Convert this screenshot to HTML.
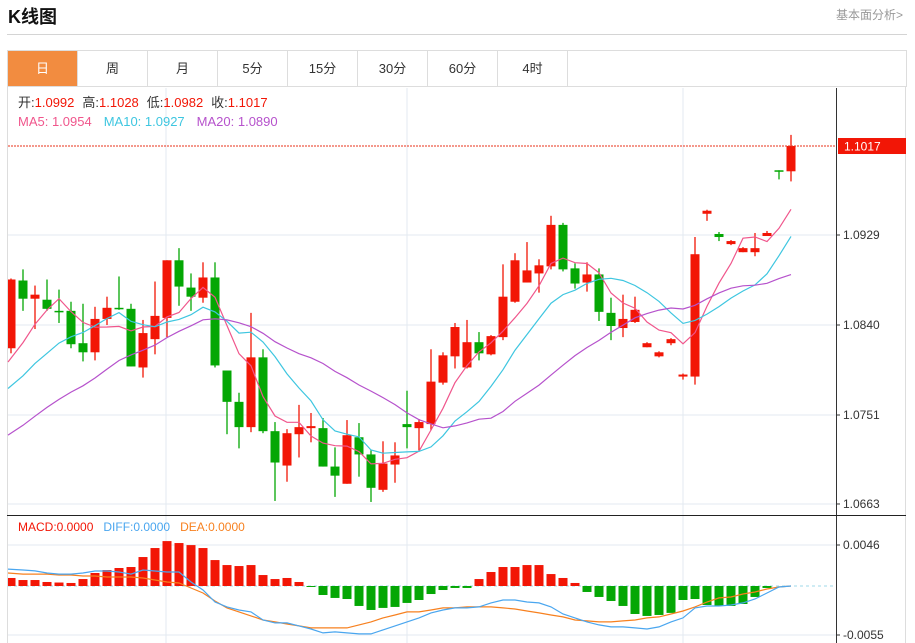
<!DOCTYPE html>
<html><head><meta charset="utf-8">
<style>
body{margin:0;background:#fff;font-family:"Liberation Sans","Noto Sans CJK SC",sans-serif;width:915px;height:643px;overflow:hidden;position:relative}
#title{position:absolute;left:8px;top:3px;font-size:18px;font-weight:bold;color:#111}
#more{position:absolute;right:12px;top:6px;font-size:12px;color:#999}
#hr{position:absolute;left:7px;top:34px;width:900px;height:1px;background:#d4d4d4}
#tabs{position:absolute;left:7px;top:50px;width:898px;height:35px;border:1px solid #ddd;display:flex}
.tab{width:69px;border-right:1px solid #ddd;text-align:center;line-height:35px;font-size:13px;color:#333}
.tab.on{background:#f28c40;color:#fff}
svg{position:absolute;left:0;top:0}
</style></head><body>
<div id="title">K线图</div>
<div id="more">基本面分析&gt;</div>
<div id="hr"></div>
<div id="tabs">
<div class="tab on">日</div>
<div class="tab">周</div>
<div class="tab">月</div>
<div class="tab">5分</div>
<div class="tab">15分</div>
<div class="tab">30分</div>
<div class="tab">60分</div>
<div class="tab">4时</div>
</div>
<svg id="chart" width="915" height="643"></svg>
<script>
const opens=[1.0817,1.0884,1.0866,1.0865,1.0854,1.0854,1.0822,1.0813,1.0846,1.0857,1.0856,1.0798,1.0826,1.0847,1.0904,1.0877,1.0867,1.0887,1.0795,1.0764,1.0739,1.0808,1.0735,1.0701,1.0732,1.0738,1.0738,1.0700,1.0683,1.0729,1.0712,1.0677,1.0702,1.0742,1.0738,1.0742,1.0783,1.0809,1.0798,1.0823,1.0811,1.0828,1.0863,1.0882,1.0891,1.0898,1.0939,1.0896,1.0882,1.0890,1.0852,1.0837,1.0843,1.0818,1.0809,1.0822,1.0789,1.0789,1.0950,1.0930,1.0920,1.0912,1.0912,1.0928,1.0993,1.0992];
const highs=[1.0886,1.0895,1.0879,1.0885,1.0875,1.0863,1.0861,1.0858,1.0868,1.0888,1.0861,1.0845,1.0883,1.0904,1.0916,1.0891,1.0902,1.0902,1.0795,1.0773,1.0852,1.0816,1.0744,1.0737,1.0761,1.0753,1.0748,1.0719,1.0746,1.0743,1.0716,1.0725,1.0724,1.0775,1.0747,1.0816,1.0813,1.0842,1.0845,1.0833,1.0830,1.0900,1.0911,1.0922,1.0905,1.0948,1.0941,1.0901,1.0902,1.0896,1.0867,1.0870,1.0868,1.0823,1.0814,1.0827,1.0792,1.0927,1.0954,1.0932,1.0924,1.0917,1.0931,1.0933,1.0993,1.1028];
const lows=[1.0812,1.0854,1.0836,1.0854,1.0842,1.0817,1.0804,1.0805,1.0840,1.0855,1.0799,1.0788,1.0811,1.0828,1.0859,1.0854,1.0862,1.0798,1.0732,1.0718,1.0734,1.0733,1.0666,1.0685,1.0709,1.0724,1.0700,1.0670,1.0683,1.0690,1.0665,1.0675,1.0684,1.0718,1.0716,1.0736,1.0781,1.0797,1.0797,1.0805,1.0810,1.0825,1.0862,1.0882,1.0872,1.0895,1.0893,1.0876,1.0873,1.0844,1.0825,1.0828,1.0842,1.0818,1.0808,1.0820,1.0786,1.0781,1.0943,1.0923,1.0919,1.0912,1.0908,1.0928,1.0984,1.0982];
const closes=[1.0885,1.0866,1.0870,1.0856,1.0853,1.0821,1.0813,1.0846,1.0857,1.0856,1.0799,1.0832,1.0849,1.0904,1.0878,1.0868,1.0887,1.0800,1.0764,1.0739,1.0808,1.0735,1.0704,1.0733,1.0739,1.0740,1.0700,1.0691,1.0731,1.0712,1.0679,1.0703,1.0711,1.0739,1.0744,1.0784,1.0810,1.0838,1.0823,1.0812,1.0829,1.0868,1.0904,1.0894,1.0899,1.0939,1.0895,1.0881,1.0890,1.0853,1.0839,1.0846,1.0855,1.0822,1.0813,1.0826,1.0791,1.0910,1.0953,1.0927,1.0923,1.0916,1.0916,1.0931,1.0992,1.1017];
const priorCloses=[1.0672,1.0690,1.0681,1.0695,1.0678,1.0688,1.0692,1.0680,1.0687,1.0687,1.0740,1.0748,1.0756,1.0752,1.0759,1.0770,1.0779,1.0786,1.0797];
const priceTicks=[1.0929,1.0840,1.0751,1.0663];
const macdHist=[9,6.7,6.7,4.5,3.9,3.4,7.8,14.6,17.9,20.2,21.3,32.5,42.6,50.4,48.2,45.9,42.6,29.1,23.5,22.4,23.5,12.3,7.8,9,4.5,-1.1,-10.1,-13.4,-14.6,-22.4,-26.9,-24.6,-23.5,-19,-15.7,-9,-4.5,-2.2,-2.2,7.8,15.7,21.3,21.3,23.5,23.5,13.4,9,3.4,-6.7,-12.3,-16.8,-22.4,-31.4,-33.6,-32.5,-30.2,-15.7,-14.6,-21.3,-22.4,-22.4,-20.2,-12.3,-2.2,0,0];
const diffVals=[19,18,17,14.6,13.4,13.4,14.6,16.8,16.8,15.7,13.4,17.9,16.8,15.7,15.7,4.5,-4.5,-17.9,-23.5,-26.9,-29.1,-38.1,-41.4,-41.4,-44.8,-48.2,-52.6,-51.5,-52.6,-53.8,-53.8,-49.3,-44.8,-40.3,-35.8,-30.2,-26.9,-24.6,-24.6,-23.5,-19,-15.7,-15.7,-17.9,-19,-23.5,-31.4,-35.8,-40.3,-43.7,-45.9,-45.9,-47,-48.2,-45.9,-40.3,-35.8,-24.6,-22.4,-22.4,-21.3,-19,-14.6,-7.8,-1.1,0];
const deaVals=[14.6,13.4,13.4,13.4,12.3,12.3,11.2,11.2,10.1,10.1,10.1,9,6.7,4.5,3.4,-2.2,-7.8,-16.8,-24.6,-29.1,-33.6,-38.1,-40.3,-42.6,-44.8,-47,-47,-47,-47,-43.7,-40.3,-35.8,-32.5,-29.1,-29.1,-26.9,-24.6,-24.6,-23.5,-23.5,-23.5,-24.6,-25.8,-28,-30.2,-32.5,-34.7,-38.1,-39.2,-40.3,-40.3,-39.2,-38.1,-35.8,-34.7,-31.4,-28,-23.5,-17.9,-13.4,-12.3,-9,-6.7,-3.4,-1.1,0];
const macdTicks=[46,-55];
const maPeriods=[5,10,20];

const NS='http://www.w3.org/2000/svg';
const svg=document.getElementById('chart');
function mk(tag,attrs,parent){const e=document.createElementNS(NS,tag);for(const k in attrs)e.setAttribute(k,attrs[k]);(parent||svg).appendChild(e);return e;}
const PL=8,PR=836,MT=88,MB=515,DT=516,DB=643;
const xAt=i=>11+i*12;
const yP=p=>235+(1.0929-p)*10112;
const yM=v=>586-v*0.8911;
const RED='#f21606',GREEN='#04a704';

// panel frame
let f=mk('rect',{x:7.5,y:86.5,width:898,height:560,fill:'none',stroke:'#ddd'});


// grids
priceTicks.forEach(t=>{const g=mk('line',{x1:PL,x2:PR,y1:yP(t),y2:yP(t),stroke:'#e3eaf0'});


const tx=mk('text',{x:843,y:yP(t)+4,'font-size':12,fill:'#333'});tx.textContent=t.toFixed(4);


mk('line',{x1:836,x2:840,y1:yP(t),y2:yP(t),stroke:'#333'});});
macdTicks.forEach(t=>{const g=mk('line',{x1:PL,x2:PR,y1:yM(t),y2:yM(t),stroke:'#e3eaf0'});


const tx=mk('text',{x:843,y:yM(t)+4,'font-size':12,fill:'#333'});tx.textContent=(t/10000).toFixed(4);


mk('line',{x1:836,x2:840,y1:yM(t),y2:yM(t),stroke:'#333'});});
[166,407,683].forEach(x=>{const v=mk('line',{x1:x,x2:x,y1:MT,y2:DB,stroke:'#e3eaf0'});

});
let ax=mk('line',{x1:836.5,x2:836.5,y1:MT,y2:DB,stroke:'#333'});


let sep=mk('line',{x1:7,x2:906,y1:515.5,y2:515.5,stroke:'#222'});



// candles
closes.forEach((c,i)=>{const o=opens[i],up=c>=o,col=up?RED:GREEN;
const g=mk('g',{});


mk('line',{x1:xAt(i),x2:xAt(i),y1:yP(highs[i]),y2:yP(lows[i]),stroke:col,'stroke-width':1.3},g);
const top=Math.min(yP(o),yP(c)),h=Math.max(1.5,Math.abs(yP(o)-yP(c)));
const x0=Math.max(PL,xAt(i)-4.5);
mk('rect',{x:x0,y:top,width:xAt(i)+4.5-x0,height:h,fill:col},g);});

// MAs
const allC=priorCloses.concat(closes),off=priorCloses.length;
const maCols=['#f0568c','#3ec6e0','#b652cc'];
maPeriods.forEach((n,k)=>{let pts=[];closes.forEach((c,i)=>{let s=0;for(let j=0;j<n;j++)s+=allC[off+i-j];pts.push(xAt(i)+','+yP(s/n).toFixed(1));});
pts[0]=PL+','+pts[0].split(',')[1];
const l=mk('polyline',{points:pts.join(' '),fill:'none',stroke:maCols[k],'stroke-width':1.2});

});

// last price line
const lp=closes[closes.length-1];
let dl=mk('line',{x1:PL,x2:836,y1:yP(lp),y2:yP(lp),stroke:'#e8301a','stroke-dasharray':'2,1'});


let lb=mk('rect',{x:838,y:yP(lp)-8,width:68,height:16,fill:'#f21606'});


let lt=mk('text',{x:844,y:yP(lp)+4.5,'font-size':12,fill:'#fff'});lt.textContent=lp.toFixed(4);



// MACD
let zl=mk('line',{x1:PL,x2:PR,y1:yM(0),y2:yM(0),stroke:'#9fd8ea','stroke-dasharray':'3,3'});


macdHist.forEach((v,i)=>{const y0=yM(0),y1=yM(v);const x0=Math.max(PL,xAt(i)-4.5);
const b=mk('rect',{x:x0,y:Math.min(y0,y1),width:xAt(i)+4.5-x0,height:Math.abs(y1-y0),fill:v>=0?RED:GREEN});

});
[[deaVals,'#f7801f','dea-line'],[diffVals,'#4aa6ef','diff-line']].forEach(([arr,col,nm])=>{
const pts=arr.map((v,i)=>(i==0?PL:xAt(i))+','+yM(v).toFixed(1)).join(' ');
const l=mk('polyline',{points:pts,fill:'none',stroke:col,'stroke-width':1.2});

});

// legends
function legend(y,items,name){const t=mk('text',{x:18,y:y,'font-size':13});


items.forEach(([s,c,dx])=>{const sp=mk('tspan',{fill:c},t);if(dx)sp.setAttribute('dx',dx);sp.textContent=s;});}
legend(107,[['开:','#333'],[opens[65].toFixed(4),RED],['高:','#333',8],[highs[65].toFixed(4),RED],['低:','#333',8],[lows[65].toFixed(4),RED],['收:','#333',8],[lp.toFixed(4),RED]],'ohlc-legend');
legend(126,[['MA5: 1.0954','#f0568c'],['MA10: 1.0927','#3ec6e0',12],['MA20: 1.0890','#b652cc',12]],'ma-legend');
const ml=mk('text',{x:18,y:531,'font-size':12});


[['MACD:0.0000','#f21606',0],['DIFF:0.0000','#4aa6ef',10],['DEA:0.0000','#f7801f',10]].forEach(([s,c,dx])=>{const sp=mk('tspan',{fill:c,dx:dx},ml);sp.textContent=s;});
</script>
</body></html>
